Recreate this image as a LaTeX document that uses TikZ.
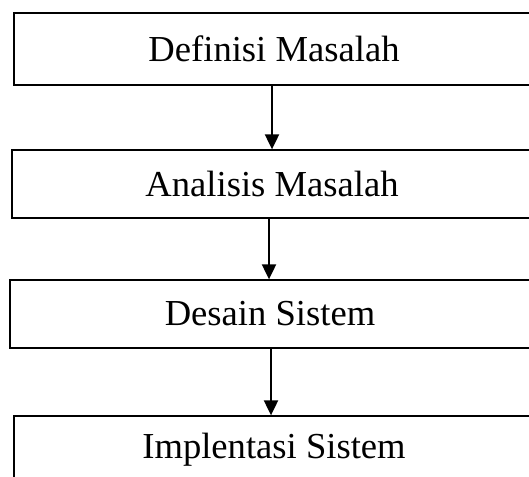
\documentclass[tikz,border=0pt]{standalone}
\usepackage{fontspec}
\setmainfont{Liberation Serif}
\usepackage{tikz}
\usetikzlibrary{positioning, arrows.meta}
\tikzset{
  box/.style ={draw, line width=0.65pt, minimum width=260pt, inner sep=0pt,
               align=center, font=\fontsize{18.3pt}{22pt}\selectfont},
  flow/.style={-{Triangle[length=7.5pt, width=7pt]}, line width=1pt},
}
\begin{document}
\begin{tikzpicture}[x=0.5pt, y=-0.5pt]
  \path[use as bounding box, clip] (0,0) rectangle (529,476);
  \node[box, minimum height=36pt] (def) at (274,49)  {Definisi Masalah};
  \node[box, minimum height=34pt] (ana) at (272,184) {Analisis Masalah};
  \node[box, minimum height=34pt] (des) at (270,314) {Desain Sistem};
  \node[box, minimum height=34pt] (imp) at (274,450) {Implentasi Sistem};
  \draw[flow] (def.south -| 272,0) -- (ana.north -| 272,0);
  \draw[flow] (ana.south -| 269,0) -- (des.north -| 269,0);
  \draw[flow] (des.south -| 271,0) -- (imp.north -| 271,0);
\end{tikzpicture}
\end{document}
